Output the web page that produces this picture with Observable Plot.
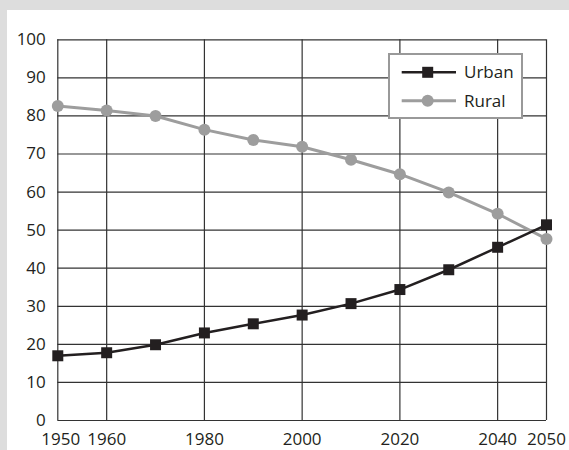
<!DOCTYPE html>
<html>
<head>
<meta charset="utf-8">
<script src="https://cdn.jsdelivr.net/npm/d3@7"></script>
<script src="https://cdn.jsdelivr.net/npm/@observablehq/plot@0.6"></script>
<style>
  html, body { margin: 0; padding: 0; background: #dddddd; }
  #wrap { position: relative; width: 569px; height: 450px; overflow: hidden; }
  #chart { position: absolute; left: 7px; top: 10px; }
  #chart svg { background: #ffffff; display: block; }
  #legend { position: absolute; left: 388px; top: 53px; font-family: "Open Sans", sans-serif; }
</style>
</head>
<body>
<div id="wrap">
  <div id="chart"></div>
  <svg id="legend" width="136" height="67"></svg>
</div>
<script>
const years = [1950, 1960, 1970, 1980, 1990, 2000, 2010, 2020, 2030, 2040, 2050];
const urban = [17.0, 17.8, 19.9, 23.0, 25.4, 27.7, 30.7, 34.4, 39.6, 45.5, 51.4];
const rural = [82.6, 81.4, 80.0, 76.4, 73.7, 71.9, 68.5, 64.7, 59.9, 54.3, 47.7];
const seriesNames = ["Urban", "Rural"];
const xTicks = [1950, 1960, 1980, 2000, 2020, 2040, 2050];
const yTicks = [0, 10, 20, 30, 40, 50, 60, 70, 80, 90, 100];

const urbanColor = "#231f20";
const ruralColor = "#9d9d9d";

const urbanData = years.map((y, i) => ({year: y, value: urban[i]}));
const ruralData = years.map((y, i) => ({year: y, value: rural[i]}));

const axisOpts = { tickFormat: d => String(d), tickSize: 0, tickPadding: 12, label: null };

const chart = Plot.plot({
  width: 562,
  height: 440,
  marginLeft: 50.3,
  marginRight: 23,
  marginTop: 29.3,
  marginBottom: 30,
  style: { fontFamily: "'Open Sans', sans-serif", fontSize: "17px", fontWeight: 500, color: "#231f20", background: "#ffffff" },
  x: { domain: [1950, 2050] },
  y: { domain: [0, 100] },
  marks: [
    Plot.ruleY(yTicks, { stroke: "#333333", strokeWidth: 1.2 }),
    Plot.ruleX(xTicks, { stroke: "#333333", strokeWidth: 1.2 }),
    Plot.axisY(yTicks, { ...axisOpts }),
    Plot.axisX(xTicks.slice(0, 1), { ...axisOpts, dx: 3 }),
    Plot.axisX(xTicks.slice(1), { ...axisOpts }),
    Plot.line(ruralData, { x: "year", y: "value", stroke: ruralColor, strokeWidth: 3 }),
    Plot.dot(ruralData, { x: "year", y: "value", fill: ruralColor, r: 6, symbol: "circle" }),
    Plot.line(urbanData, { x: "year", y: "value", stroke: urbanColor, strokeWidth: 2.5 }),
    Plot.dot(urbanData, { x: "year", y: "value", fill: urbanColor, r: 6.2, symbol: "square" })
  ]
});
document.getElementById("chart").appendChild(chart);

// Legend
const lg = d3.select("#legend");
lg.append("rect").attr("x", 1).attr("y", 1).attr("width", 133).attr("height", 64)
  .attr("fill", "#ffffff").attr("stroke", "#999999").attr("stroke-width", 2);
const items = [
  { name: seriesNames[0], color: urbanColor, sw: 2.5, cy: 19.3, sym: "square" },
  { name: seriesNames[1], color: ruralColor, sw: 3, cy: 47.7, sym: "circle" }
];
items.forEach(it => {
  lg.append("line").attr("x1", 13.7).attr("x2", 68).attr("y1", it.cy).attr("y2", it.cy)
    .attr("stroke", it.color).attr("stroke-width", it.sw);
  if (it.sym === "square") {
    lg.append("rect").attr("x", 39.7 - 5.5).attr("y", it.cy - 5.5).attr("width", 11).attr("height", 11).attr("fill", it.color);
  } else {
    lg.append("circle").attr("cx", 39.7).attr("cy", it.cy).attr("r", 6).attr("fill", it.color);
  }
  lg.append("text").attr("x", 76).attr("y", it.cy).attr("dy", "0.35em")
    .attr("font-size", 17).attr("font-weight", 500).attr("fill", "#231f20").text(it.name);
});
</script>
</body>
</html>
